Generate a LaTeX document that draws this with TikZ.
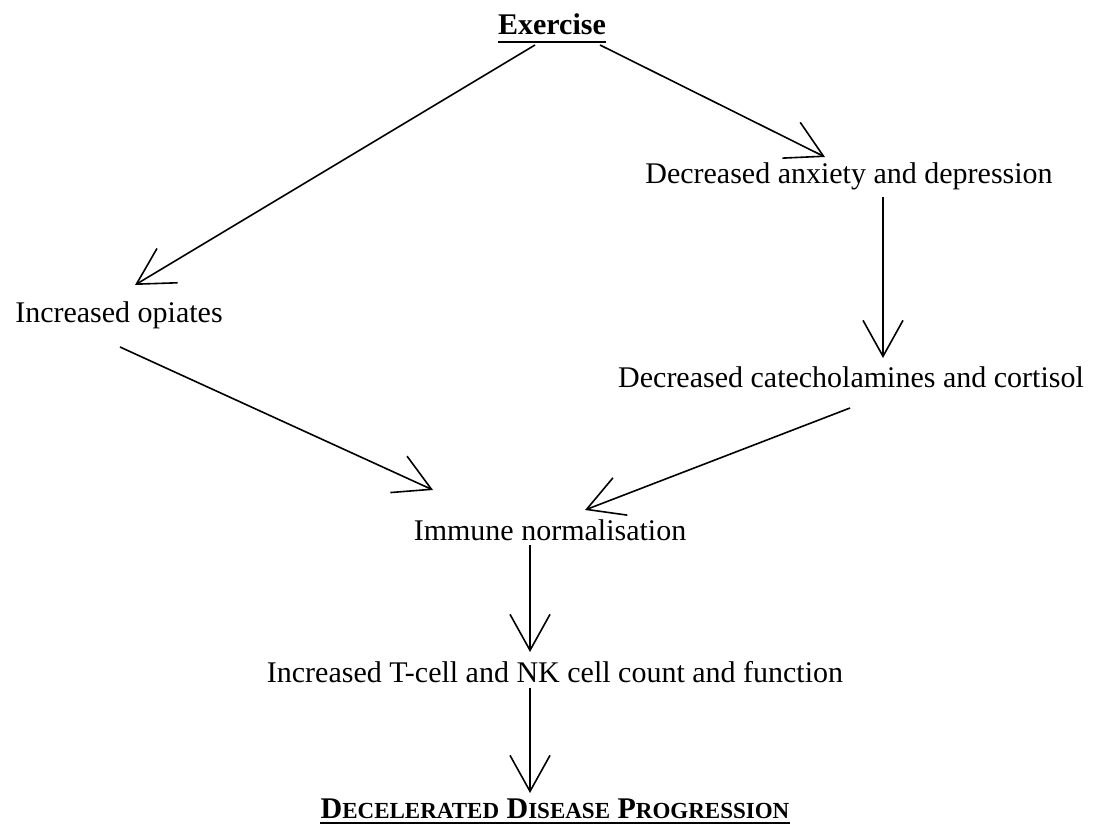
\documentclass[tikz,border=0pt]{standalone}
\usepackage{fontspec}
\setmainfont{Liberation Serif}
\usetikzlibrary{arrows.meta}
\newcommand\mysc[2]{{\fontsize{30}{36}\selectfont #1}{\fontsize{23}{28}\selectfont #2}}
\begin{document}
\begin{tikzpicture}[x=1pt,y=-1pt,
  lbl/.style={inner sep=0pt,anchor=base,font=\fontsize{30}{36}\selectfont},
  ttl/.style={lbl,font=\fontsize{30}{36}\selectfont\bfseries},
  arr/.style={line width=1.6pt,-{Straight Barb[length=36pt,width=40pt]}},
  uline/.style={line width=2.2pt}]
\useasboundingbox[fill=white] (0,0) rectangle (1097,832);
\node[ttl] (ex) at (552,35) {Exercise};
\node[lbl] (anx) at (849,183) {Decreased anxiety and depression};
\node[lbl] (op) at (119,322) {Increased opiates};
\node[lbl] (cat) at (851,387) {Decreased catecholamines and cortisol};
\node[lbl] (imm) at (550,540) {Immune normalisation};
\node[lbl] (tc) at (555,682) {Increased T-cell and NK cell count and function};
\node[ttl] (dd) at (555,818) {\mysc{D}{ECELERATED} \mysc{D}{ISEASE} \mysc{P}{ROGRESSION}};
\draw[uline] ([shift={(0,7)}]ex.base west) -- ([shift={(0,7)}]ex.base east);
\draw[uline] ([shift={(0,5)}]dd.base west) -- ([shift={(0,5)}]dd.base east);
\draw[arr] ([shift={(-17,10)}]ex.base) -- ([shift={(16,-37)}]op.base);
\draw[arr] ([shift={(48,10)}]ex.base) -- ([shift={(-24,-26)}]anx.base);
\draw[arr] ([shift={(34,14)}]anx.base) -- ([shift={(32,-29)}]cat.base);
\draw[arr] ([shift={(1,25)}]op.base) -- ([shift={(-117,-50)}]imm.base);
\draw[arr] ([shift={(-1,21)}]cat.base) -- ([shift={(35,-30)}]imm.base);
\draw[arr] ([shift={(-20,5)}]imm.base) -- ([shift={(-25,-30)}]tc.base);
\draw[arr] ([shift={(-25,6)}]tc.base) -- ([shift={(-25,-25)}]dd.base);
\end{tikzpicture}
\end{document}
